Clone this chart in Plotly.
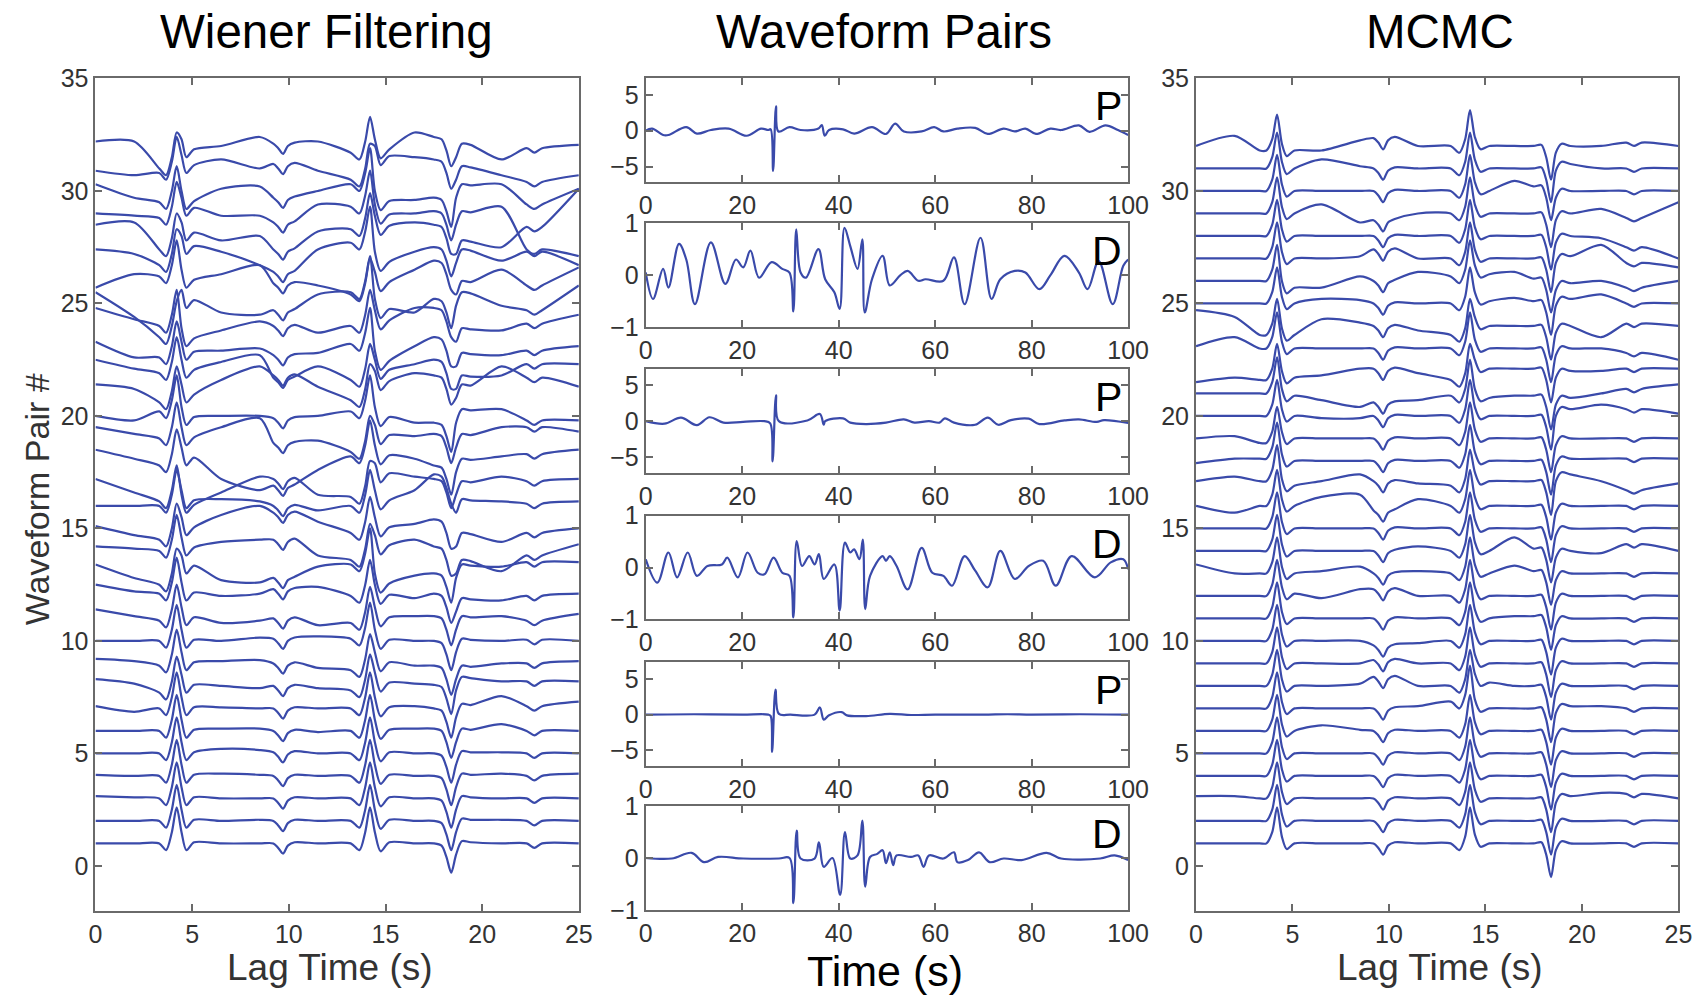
import plotly.graph_objects as go

# ---------------- data ----------------
# lag-time grid shared by the stacked traces (s)
LAG_T = [0, 2, 3.3, 3.65, 3.95, 4.2, 4.45, 4.7, 5.1, 6.5, 8.5, 9.2, 9.45, 9.7, 9.95, 10.3,
         11.5, 13.2, 13.65, 13.95, 14.2, 14.45, 14.75, 15.2, 16.5, 17.5, 17.9, 18.15, 18.4,
         18.65, 18.95, 19.4, 21, 22.3, 22.7, 23.1, 25]
# which background knot each grid point uses
BG_SLOT = [0, 1, 2, 2, 2, 2, 3, 3, 3, 4, 5, 6, 6, 6, 6, 6, 7, 8, 8, 8, 8, 9, 9, 9, 10,
           11, 11, 11, 11, 12, 12, 12, 13, 14, 14, 14, 15]
# common arrival shape
WIENER_PULSE = [0, 0, 0, -0.3, 0.5, 1.6, 0.5, -0.3, 0.05, 0, 0, 0, -0.2, -0.45, -0.1, 0.05,
                0, 0, -0.3, 0.5, 1.6, 0.5, -0.35, 0.05, 0, 0, -0.1, -0.6, -1.3, -0.5, 0.1,
                0.05, 0, 0, -0.2, 0, 0]
MCMC_PULSE = [0, 0, 0, 0, 0.5, 1.6, 0.3, -0.25, 0, 0, 0, 0, -0.2, -0.5, -0.1, 0.05,
              0, 0, -0.3, 0.3, 1.6, 0.4, -0.15, 0, 0, 0, 0.05, -0.5, -1.5, -0.3, 0.1,
              0, 0, 0, -0.15, 0, 0]

# per-pair background at knots (0, 2, A-in, A-out, 6.5, 8.5, B, 11.5, C-in, C-out,
# 16.5, D-in, D-out, 21, E, 25); pair 1 first
WIENER_BG = [
    [0, 0, 0, 0, 0, 0, 0, 0, 0, 0, 0, 0, 0, 0, 0, 0],
    [0, 0, 0, 0, 0, 0.05, 0, 0, 0, 0, 0, 0, 0, 0.05, 0, 0],
    [0.1, 0.05, 0, 0, 0, 0, 0, 0, 0, 0, 0, 0, 0, 0, 0, 0],
    [0.05, 0, 0, 0, 0.1, 0.05, 0, 0, 0, 0, 0, 0, 0, 0.1, 0, 0.1],
    [0, 0, 0, 0, 0.2, 0.15, 0.05, 0, 0, 0, 0, 0, 0, 0.05, 0, 0],
    [0, 0, 0, 0, 0.1, 0.1, 0, -0.05, 0, 0, 0.1, 0.1, 0, 0.3, 0, 0],
    [0.1, -0.15, 0, 0, 0.05, 0, 0, 0, 0, 0, 0.1, 0, 0.1, 0.55, 0.1, 0.3],
    [0.3, 0.1, -0.3, 0, 0, -0.1, 0, -0.1, -0.2, 0.1, 0.1, 0.05, 0.3, 0.2, 0.2, 0.2],
    [0.2, 0.1, -0.1, 0, 0.1, 0.15, 0, -0.2, -0.3, 0, -0.1, -0.1, -0.2, 0, 0, 0.1],
    [0, 0, 0, 0, 0, 0.15, 0.1, 0.2, 0.1, 0, 0, 0, 0, 0, 0.05, 0],
    [0.4, 0.1, -0.1, 0, -0.2, -0.1, 0, -0.3, -0.2, 0, 0.1, 0.1, 0, 0.1, -0.1, 0.2],
    [0.5, 0.2, 0.1, 0.1, 0, 0.1, 0.3, 0.4, 0, 0, -0.1, 0.1, -0.2, -0.2, 0, 0.1],
    [0.4, -0.2, -0.5, 0.3, -0.3, -0.4, -0.2, 0.3, 0.4, -0.5, -0.1, 0, 0.3, 0.3, 0.5, 0.5],
    [0.2, 0.1, 0, 0.1, 0.4, 0.5, 0.5, -0.2, -0.4, 0.2, 0.5, 0.2, -0.5, -0.9, -0.2, 0.3],
    [0.1, -0.3, -0.5, 0, 0.6, 1.0, 0.7, 0.3, -0.2, 0, 0.2, 0.4, -0.3, -0.6, -0.2, 0.0],
    [0, 0, 0, 0.2, 0.3, 0.2, 0, -0.2, 0, 0.2, 0.7, 1.4, 0.2, 0.2, 0.1, 0.2],
    [0.2, -0.4, -0.8, -1.0, -0.4, 0.3, 0.2, -0.5, -0.6, 0.4, 0.3, 0.2, 0, 0.3, 0.1, 0.2],
    [0.5, 0.1, -0.2, 0.1, -0.8, -1.3, -1.1, -0.4, 0.2, 0.2, 0.1, -0.2, 0, 0.2, 0.3, 0.5],
    [0.5, 0.2, 0, 0, 0.5, 0.9, -0.2, -0.1, -0.6, 0.1, 0.1, 0.2, 0.1, 0.5, 0.5, 0.3],
    [0, -0.2, 0.2, -0.1, 0, 0, -0.1, 0, 0.2, -0.1, -0.3, -0.3, 0.2, 0.3, -0.2, -0.2],
    [0.4, 0.2, -0.4, -0.1, 0.6, 1.2, 0.8, 0.3, -0.3, 0.5, 0.9, 0.8, 0.3, 1.2, 0.7, 0.3],
    [0.5, 0.1, -0.1, 0, 0.4, 0.7, -0.3, 0.2, -0.4, 0, 0.3, 0.5, -0.3, -0.2, 0.3, 0.3],
    [0.3, -0.4, -0.4, -0.2, -0.1, 0.0, -0.3, -0.2, 0.2, -0.6, 0.1, 0.5, -0.3, -0.3, -0.1, 0.1],
    [0.8, 0.3, 0, -0.6, -0.2, 0.2, 0, -0.3, 0, 0.2, 0.8, 0.8, -0.2, -0.2, 0.1, 0.5],
    [0.5, -0.6, -1.5, 0.1, -0.4, -0.5, -0.3, 0.4, 0.5, -0.3, -0.4, 0.2, 0.4, -0.1, -0.3, 0.8],
    [-0.3, 0.3, 0.2, 0, 0.3, 0.7, -0.1, -0.2, -0.6, -0.1, 0.5, 0.9, -0.1, 0.5, -0.2, 0.6],
    [0.4, 0.2, -0.3, 0.5, 0.3, -0.3, -0.6, 0.4, 0.7, -0.2, 0.3, 0.5, 0.3, -0.1, 0.3, -0.3],
    [0.5, 0.6, -0.6, 0.1, -0.2, 0.0, -0.6, 0.2, 0.3, 0.4, 0.6, 0.5, -0.3, -0.5, 0.4, 2.1],
    [0, -0.1, -0.2, 0.2, -0.1, -0.1, -0.4, 0.4, 0.3, -0.1, 0.0, 0.1, 0.0, 0.3, -1.6, -1.9],
    [0.3, -0.3, -0.5, -0.5, 0.1, 0.2, -0.3, 0.0, 0.3, -0.5, -0.4, -0.3, 0.2, 0.3, -0.6, 0.1],
    [-0.1, -0.3, -0.2, 0.1, 0.4, 0.0, 0.2, -0.1, -0.5, 0.5, 0.5, 0.4, 0.0, -0.3, -0.6, -0.3],
    [0.2, 0.2, -1.0, -0.2, 0.0, 0.4, 0.1, 0.2, -0.3, -0.2, 0.6, 0.4, 0.0, -0.6, -0.1, 0.05],
]
MCMC_BG = [
    [0, 0, 0, 0, 0, 0, 0, 0, 0, 0, 0, 0, 0, 0, 0, 0],
    [0, 0, 0, 0, 0, 0, 0, 0, 0, 0, 0, 0, 0, 0, 0, 0],
    [0.1, 0.1, 0, 0, 0, 0, 0, 0, 0, 0, 0, 0, 0.1, 0.25, 0.2, 0],
    [0, 0, 0, 0, 0, 0, 0, 0, 0, 0, 0, 0, 0, 0, 0, 0],
    [0, 0, 0, 0, 0, 0, 0, 0, 0, 0, 0, 0, 0, 0, 0, 0],
    [0, 0, 0, 0, 0.25, 0.05, 0, 0, 0, 0, 0, 0, 0, 0, 0, 0],
    [0, 0, 0, 0, 0, 0, 0, 0.1, 0.3, 0, 0, 0, 0.1, 0.1, 0, 0],
    [0, 0, 0, 0, 0, 0.1, 0.4, 0, 0, 0.15, 0, 0, 0, 0, 0, 0],
    [0, 0, 0, 0, 0, 0, 0.15, 0, 0, 0, 0, 0, 0, 0, 0, 0],
    [0, 0, 0, 0, 0, 0, -0.2, -0.1, 0, 0, 0, 0, 0, 0, 0, 0],
    [0, 0, 0, 0, 0, 0, 0, 0, 0, 0, 0.1, 0.1, 0, 0, 0, 0],
    [0, 0, 0, 0.1, -0.1, 0.3, 0.3, 0, 0, 0, 0, 0, 0, 0, 0, 0],
    [0.4, 0, 0, 0, 0.1, 0.3, 0, 0.1, 0, 0, 0.35, 0.1, 0, 0, 0, 0],
    [0, 0, 0, 0, 0, 0, 0, 0.2, 0, 0, 0.6, 0.1, 0, -0.1, 0.3, 0],
    [0, 0, 0, 0, 0, 0, 0, 0, 0, 0, 0, 0, 0, 0, 0, 0],
    [0, -0.3, 0, 0, 0.4, 0.5, -0.2, 0.3, 0, 0, 0, 0, 0, 0, 0, 0],
    [0.1, 0.3, 0.1, -0.1, 0.1, 0.4, 0.1, 0, -0.1, 0.1, 0.1, 0.1, 0.4, 0.1, -0.3, 0],
    [-0.1, 0.1, 0.1, 0, 0, 0, 0, 0, 0, 0, 0, 0, 0.1, 0.1, 0.1, 0.1],
    [0, 0.1, -0.2, 0, 0, 0, 0, 0, 0, 0, 0, 0, 0, 0, 0, 0],
    [0, 0, 0, 0, -0.1, -0.1, 0, 0, 0, 0, 0, 0, 0.3, 0.5, 0.3, 0.1],
    [0, 0, 0, -0.1, -0.3, -0.6, -0.4, -0.3, -0.1, -0.2, -0.1, -0.1, -0.2, 0, 0.2, 0.4],
    [-0.5, -0.3, -0.4, -0.3, -0.2, 0.1, 0.1, -0.1, -0.4, 0.1, 0.1, 0.1, 0, 0, 0.1, 0.1],
    [0.1, 0.5, 0, 0, 0, 0, 0, 0, 0, 0, 0, 0, 0, 0, -0.2, -0.5],
    [0.7, 0.4, -0.4, -0.4, 0.3, 0.15, 0, -0.2, -0.4, 0, 0, 0, 0, -0.5, 0.1, 0],
    [0, 0, 0, 0, 0.2, 0.15, 0, 0, 0, 0.1, 0.25, 0.1, 0.2, 0.4, 0, 0],
    [0, 0, 0, -0.3, -0.3, 0.2, 0, 0.4, 0.2, 0.3, 0.4, 0.1, -0.1, 0, -0.3, 0],
    [0, 0, 0, 0, 0, 0.1, 0.4, 0, 0, 0, 0, 0, 0.1, 0.6, -0.2, -0.4],
    [0, 0, 0, 0, 0, 0, 0, 0, 0, 0, 0, 0, 0, -0.1, -0.5, -1.0],
    [0, 0, 0, 0, 0.4, -0.4, -0.3, 0, 0, 0, 0, 0, 0, 0.2, -0.2, 0.5],
    [0, 0, 0, 0, 0, 0, 0, 0, 0, 0, 0.45, 0.2, 0, 0, 0, 0],
    [0, 0, 0, 0, 0.4, 0.1, 0, 0, 0, 0, 0, 0, 0.2, 0, 0, 0],
    [0, 0.45, -0.2, -0.2, -0.2, 0.25, 0.35, 0, 0, 0, 0, 0, 0, 0, 0.15, 0],
]

# waveform pairs (time in s, amplitude)
P1_T = [0, 1.3, 3.6, 4.7, 8.4, 10.6, 13.5, 17.2, 20.9, 23.9, 25.4, 25.9, 26.4, 27.0, 27.5,
        29.8, 32.1, 35.8, 36.5, 37.1, 38.0, 40.9, 43.2, 46.9, 49.8, 51.7, 53.5, 57.2, 59.8,
        61.7, 64.6, 68.3, 70.9, 74.2, 76.5, 78.7, 80.9, 83.9, 86.1, 89.8, 92.0, 95.3, 97.9, 100]
P1_V = [0, 0.3, -0.6, -0.6, 0.5, -0.4, 0.1, 0.3, -0.7, 0.3, 0.1, 0.2, -5.6, 3.4, -0.1,
        0.5, 0.1, 0.3, 0.8, -0.7, 0.1, 0.2, -0.4, 0.5, -0.45, 1.0, -0.1, -0.1, 0.5,
        -0.1, 0.3, 0.4, -0.45, 0.3, -0.1, 0.3, -0.45, 0.3, 0.1, 0.75, -0.15, 0.75, 0.1, -0.6]
D1_T = [0, 1.5, 3.6, 4.7, 6.9, 8.4, 10.2, 13.5, 16.5, 18.7, 20.2, 21.7, 23.5, 26.1, 28.3,
        29.8, 30.6, 31.2, 32.1, 33.2, 35.8, 37.2, 39.1, 40.2, 41.2, 42.4, 43.9, 44.9, 45.4,
        46.9, 49.1, 50.6, 52.8, 54.3, 56.5, 58.0, 61.7, 63.9, 66.1, 69.4, 71.7, 73.5, 76.5,
        78.7, 81.6, 83.9, 86.8, 89.8, 91.6, 93.9, 96.8, 99.0, 100]
D1_V = [0.05, -0.46, 0.12, -0.24, 0.6, 0.3, -0.56, 0.63, -0.17, 0.3, 0.15, 0.47, -0.05, 0.25,
        0.12, 0.05, -0.7, 0.88, 0.05, -0.05, 0.5, -0.08, -0.33, -0.65, 0.91, 0.56, 0.12, 0.69,
        -0.72, -0.08, 0.37, -0.2, 0, 0.08, -0.11, -0.08, -0.11, 0.34, -0.56, 0.72, -0.46,
        -0.08, 0.08, 0.05, -0.27, 0, 0.37, 0.05, -0.27, 0.27, -0.56, 0.18, 0.3]
P2_T = [0, 3.9, 7.3, 10.6, 13.2, 16.1, 20.2, 24.6, 25.8, 26.3, 27.0, 27.6, 33.5, 36.1, 36.9,
        37.2, 40.9, 42.4, 45.7, 49.8, 53.5, 55.7, 58.7, 60.9, 62.0, 63.9, 68.3, 70.9, 73.1,
        75.7, 79.4, 81.6, 86.8, 89.8, 93.5, 95.0, 100]
P2_V = [0, -0.35, 0.5, -0.55, 0.55, -0.2, -0.1, 0, -0.3, -5.6, 3.6, 0, 0.1, 1.0, -0.5,
        0, 0.4, -0.2, -0.4, -0.2, 0.25, -0.2, 0, -0.2, 0.4, -0.2, -0.5, 0.5, -0.5,
        0.15, 0.35, -0.4, 0.1, 0.25, -0.1, 0.15, -0.25]
D2_T = [0, 2.4, 4.7, 6.5, 8.7, 10.6, 12.8, 15.8, 16.9, 19.1, 21.1, 23.2, 24.6, 26.5, 28.3,
        29.8, 30.6, 31.3, 32.4, 33.9, 35.0, 35.9, 36.9, 39.1, 40.2, 41.3, 42.4, 43.2, 44.3,
        45.0, 45.5, 46.5, 49.1, 49.8, 50.6, 52.0, 54.3, 57.2, 59.4, 61.7, 63.5, 66.1, 68.3,
        70.9, 73.5, 76.5, 79.4, 82.4, 85.0, 88.3, 93.1, 96.4, 99.0, 100]
D2_V = [0.16, -0.29, 0.29, -0.19, 0.29, -0.16, 0.03, 0.06, 0.19, -0.19, 0.29, -0.1, -0.13,
        0.19, -0.1, -0.16, -0.96, 0.51, 0.03, 0.22, 0.06, 0.26, -0.22, 0.06, -0.83, 0.48,
        0.29, 0.35, 0.16, 0.54, -0.8, -0.16, 0.22, 0.13, 0.22, 0.03, -0.42, 0.38, -0.1,
        -0.16, -0.35, 0.22, -0.06, -0.38, 0.32, -0.22, 0.03, 0.13, -0.35, 0.22, -0.19,
        0.1, 0.16, -0.03]
P3_T = [0, 10, 20, 25.4, 25.9, 26.2, 26.9, 27.6, 30, 35.0, 36.1, 36.9, 38.0, 40.6, 41.7,
        45.7, 50.6, 55, 60, 70, 75, 80, 90, 100]
P3_V = [0, 0.05, 0, 0, -0.2, -5.2, 3.5, 0.1, 0, 0, 1.0, -0.7, -0.1, 0.35, -0.1,
        -0.2, 0.1, -0.05, 0, 0, 0.05, 0, 0.05, 0]
D3_T = [0, 5.4, 9.5, 12.1, 15.0, 20.2, 27.6, 29.8, 30.6, 31.3, 32.1, 35.0, 35.9, 36.9,
        38.7, 40.3, 41.3, 42.4, 43.9, 44.9, 45.5, 46.5, 48.0, 49.1, 49.8, 50.6, 51.3, 52.0,
        55.0, 56.5, 57.6, 58.7, 61.7, 63.9, 64.6, 66.8, 69.1, 71.3, 74.2, 77.9, 83.1, 86.1,
        94.2, 97.2, 100]
D3_V = [0, -0.01, 0.1, -0.08, 0.02, -0.01, -0.01, 0, -0.87, 0.53, -0.01, -0.01, 0.3, -0.17,
        0, -0.71, 0.5, -0.01, 0.05, 0.72, -0.55, 0.02, 0.08, 0.15, -0.1, 0.11, -0.14, 0.05,
        0.02, 0.05, -0.17, 0.05, -0.01, 0.11, -0.08, -0.04, 0.11, -0.08, -0.01, -0.04, 0.1,
        -0.01, -0.01, 0.05, -0.04]

PAIR_LABELS = ["P", "D", "P", "D", "P", "D"]
TITLES = ["Wiener Filtering", "Waveform Pairs", "MCMC"]

# ---------------- style ----------------
W, H = 1707, 995
BLUE = "#3a4aaa"
FRAME = "#6a6a6a"
FONT = "Liberation Sans, Arial, sans-serif"
TICKFONT = dict(family=FONT, size=25, color="#333333")

# the photographed page comes out slightly shrunk; place elements so they land on target
SX, OX = 0.9849, 5.4
SY, OY = 0.9737, 13.4


def px(x):
    return ((x - OX) / SX) / W


def py(y):
    return 1 - ((y - OY) / SY) / H


fig = go.Figure()


def axis_style(**kw):
    d = dict(showline=True, linecolor=FRAME, linewidth=2, mirror="ticks", ticks="inside",
             ticklen=7, tickwidth=1.5, tickcolor=FRAME, showgrid=False, zeroline=False,
             tickfont=TICKFONT, fixedrange=True)
    d.update(kw)
    return d


# left & right stacked panels
for ax, bgs, pulse, dom in [(1, WIENER_BG, WIENER_PULSE, (94, 578)),
                             (8, MCMC_BG, MCMC_PULSE, (1196, 1679))]:
    xn = "x" if ax == 1 else f"x{ax}"
    yn = "y" if ax == 1 else f"y{ax}"
    for i, bg in enumerate(bgs):
        y = [i + 1 + bg[s] + p for s, p in zip(BG_SLOT, pulse)]
        fig.add_trace(go.Scatter(x=LAG_T, y=y, mode="lines",
                                 line=dict(color=BLUE, width=2.2, shape="spline", smoothing=0.8),
                                 xaxis=xn, yaxis=yn, showlegend=False, hoverinfo="skip"))
    xa = "xaxis" if ax == 1 else f"xaxis{ax}"
    ya = "yaxis" if ax == 1 else f"yaxis{ax}"
    fig.update_layout({
        xa: axis_style(domain=[px(dom[0]), px(dom[1])], range=[0, 25],
                       tickvals=[0, 5, 10, 15, 20, 25], anchor=yn),
        ya: axis_style(domain=[py(912), py(78)], range=[-2, 35],
                       tickvals=[0, 5, 10, 15, 20, 25, 30, 35], anchor=xn),
    })

# middle waveform pairs
pairs = [(P1_T, P1_V), (D1_T, D1_V), (P2_T, P2_V), (D2_T, D2_V), (P3_T, P3_V), (D3_T, D3_V)]
tops = [78, 223, 369, 516, 663, 807]
for k, ((t, v), top) in enumerate(zip(pairs, tops)):
    ax = k + 2
    bot = top + 104
    fig.add_trace(go.Scatter(x=t, y=v, mode="lines",
                             line=dict(color=BLUE, width=2.2, shape="spline", smoothing=1.0),
                             xaxis=f"x{ax}", yaxis=f"y{ax}", showlegend=False, hoverinfo="skip"))
    is_p = PAIR_LABELS[k] == "P"
    fig.update_layout({
        f"xaxis{ax}": axis_style(domain=[px(645), px(1128)], range=[0, 100],
                                 tickvals=[0, 20, 40, 60, 80, 100], anchor=f"y{ax}"),
        f"yaxis{ax}": axis_style(domain=[py(bot), py(top)],
                                 range=[-7.2, 7.3] if is_p else [-1, 1],
                                 tickvals=[-5, 0, 5] if is_p else [-1, 0, 1], anchor=f"x{ax}"),
    })
    fig.add_annotation(text=PAIR_LABELS[k], x=px(1124), y=py(top + 28), xref="paper", yref="paper",
                       xanchor="right", yanchor="middle", showarrow=False,
                       font=dict(family=FONT, size=41, color="black"))

# titles and axis labels
for txt, cx in zip(TITLES, [325, 884, 1440]):
    fig.add_annotation(text=txt, x=px(cx), y=py(31), xref="paper", yref="paper",
                       xanchor="center", yanchor="middle", showarrow=False,
                       font=dict(family=FONT, size=47.5, color="black"))
for cx in [329, 1440]:
    fig.add_annotation(text="Lag Time (s)", x=px(cx), y=py(969), xref="paper", yref="paper",
                       xanchor="center", yanchor="middle", showarrow=False,
                       font=dict(family=FONT, size=37, color="#333333"))
fig.add_annotation(text="Time (s)", x=px(885), y=py(972), xref="paper", yref="paper",
                   xanchor="center", yanchor="middle", showarrow=False,
                   font=dict(family=FONT, size=43, color="black"))
fig.add_annotation(text="Waveform Pair #", x=px(35), y=py(500), xref="paper", yref="paper",
                   xanchor="center", yanchor="middle", showarrow=False, textangle=-90,
                   font=dict(family=FONT, size=34, color="#333333"))

fig.update_layout(width=W, height=H, margin=dict(l=0, r=0, t=0, b=0),
                  paper_bgcolor="white", plot_bgcolor="white", showlegend=False)

fig.write_html("out.html", config={"displayModeBar": False})
